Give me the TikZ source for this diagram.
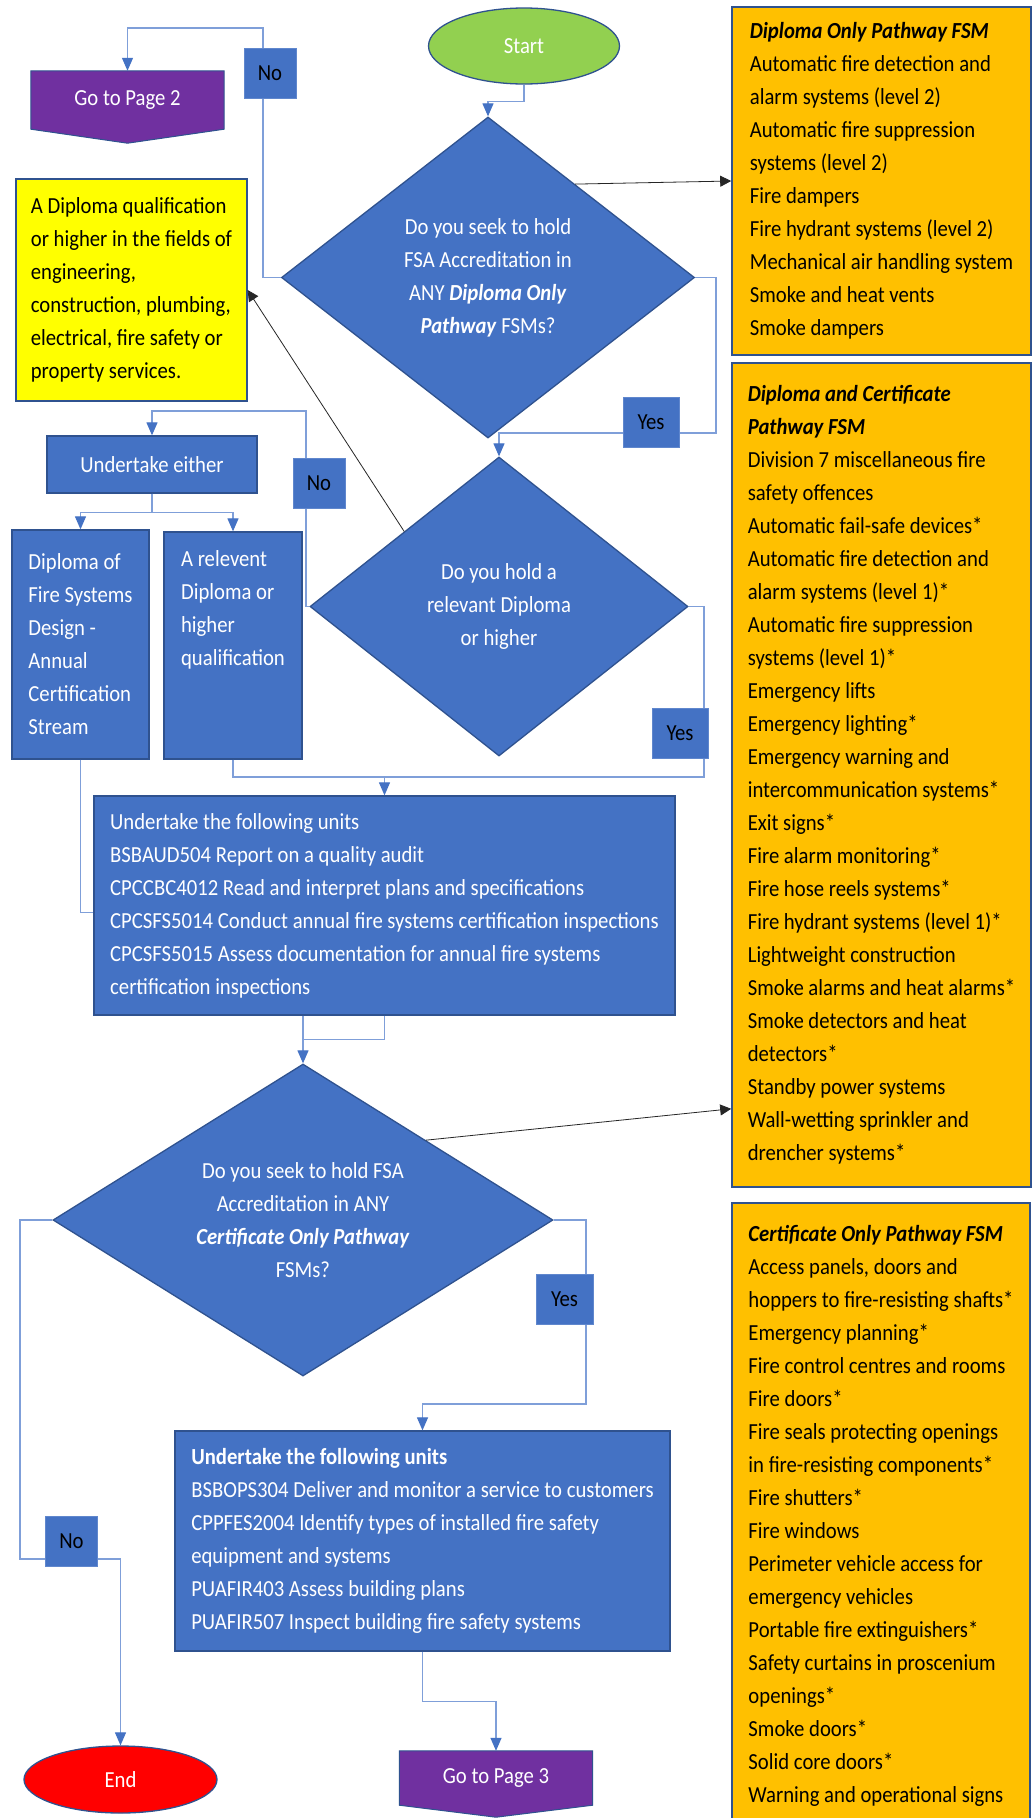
\documentclass[tikz,border=0pt]{standalone}
\usepackage{fontspec}
\setmainfont{Carlito}[FakeStretch=0.9]
\usetikzlibrary{shapes.geometric,arrows.meta,backgrounds}

\definecolor{offblue}{HTML}{4472C4}
\definecolor{offdark}{HTML}{2F528F}
\definecolor{lineblue}{HTML}{7F9FD9}
\definecolor{startgreen}{HTML}{92D050}
\definecolor{endred}{HTML}{FF0000}
\definecolor{pagepurple}{HTML}{7030A0}
\definecolor{fsmamber}{HTML}{FFC000}
\definecolor{qualyellow}{HTML}{FFFF00}

\begin{document}
\begin{tikzpicture}[x=1pt,y=-1pt,
  every node/.style={font=\fontsize{23}{33}\selectfont},
  box/.style={rectangle, draw=offdark, line width=1.3pt, fill=offblue, text=white, inner sep=0pt},
  decision/.style={diamond, aspect=1.4, draw=offdark, line width=1.3pt, fill=offblue, text=white, inner sep=0pt, align=center},
  terminal/.style={ellipse, draw=offdark, line width=1.3pt, text=white, inner sep=0pt},
  pagebox/.style={rectangle, minimum width=193pt, text=white, inner sep=0pt},
  pagefill/.style={fill=pagepurple, draw=offdark, line width=1pt},
  listbox/.style={rectangle, draw=offdark, line width=1.6pt, fill=fsmamber, text=black, align=left, inner sep=0pt},
  tag/.style={rectangle, fill=offblue, draw=offblue!85!white, line width=0.8pt, text=black, minimum width=52pt, minimum height=50pt, inner sep=0pt},
  flow/.style={draw=lineblue, line width=1.2pt, -{Triangle[length=13pt,width=11pt,color=offblue]}},
  link/.style={draw=lineblue, line width=1.2pt},
  pointer/.style={draw=black!85, line width=0.8pt, -{Triangle[length=11pt,width=11pt]}}]

%page frame
\useasboundingbox (0,0) rectangle (1035,1818);

%
%top: start, page 2, first question
%

\node[terminal, fill=startgreen, minimum width=191pt, minimum height=76pt] (start) at (524,46) {Start};
\node[pagebox, minimum height=58pt] (page2) at (127.5,100) {Go to Page 2};

\node[decision, minimum width=413pt, minimum height=321pt] (qdip) at (488,277.5)
  {Do you seek to hold\\FSA Accreditation in\\ANY \textbf{\textit{Diploma Only}}\\\textbf{\textit{Pathway}} FSMs?};

\node[listbox, minimum width=299pt, minimum height=348pt] (fsmdip) at (881.5,181)
  {\textbf{\textit{Diploma Only Pathway FSM}}\\Automatic fire detection and\\alarm systems (level 2)\\Automatic fire suppression\\systems (level 2)\\Fire dampers\\Fire hydrant systems (level 2)\\Mechanical air handling system\\Smoke and heat vents\\Smoke dampers};

\node[rectangle, draw=offdark, line width=1.3pt, fill=qualyellow, text=black, align=left, inner sep=0pt, minimum width=231pt, minimum height=222pt] (quals) at (131.5,290)
  {A Diploma qualification\\or higher in the fields of\\engineering,\\construction, plumbing,\\electrical, fire safety or\\property services.};

%
%middle: relevant diploma question
%

\node[decision, minimum width=378pt, minimum height=299pt] (qrel) at (499,606.5)
  {Do you hold a\\relevant Diploma\\or higher};

\node[box, minimum width=210pt, minimum height=57pt] (either) at (152,464.5) {Undertake either};
\node[box, align=left, minimum width=137pt, minimum height=229pt] (dipfsd) at (80.5,644.5)
  {Diploma of\\Fire Systems\\Design -\\Annual\\Certification\\Stream};
\node[box, align=left, minimum width=138pt, minimum height=227pt] (reldip) at (233,645.5)
  {A relevent\\Diploma or\\higher\\qualification\\\strut\\\strut};

\node[listbox, minimum width=299pt, minimum height=824pt] (fsmboth) at (881.5,775)
  {\textbf{\textit{Diploma and Certificate}}\\\textbf{\textit{Pathway FSM}}\\Division 7 miscellaneous fire\\safety offences\\Automatic fail-safe devices*\\Automatic fire detection and\\alarm systems (level 1)*\\Automatic fire suppression\\systems (level 1)*\\Emergency lifts\\Emergency lighting*\\Emergency warning and\\intercommunication systems*\\Exit signs*\\Fire alarm monitoring*\\Fire hose reels systems*\\Fire hydrant systems (level 1)*\\Lightweight construction\\Smoke alarms and heat alarms*\\Smoke detectors and heat\\detectors*\\Standby power systems\\Wall-wetting sprinkler and\\drencher systems*};

\node[box, align=left, minimum width=581pt, minimum height=219pt] (unitsA) at (384.5,905.5)
  {Undertake the following units\\BSBAUD504 Report on a quality audit\\CPCCBC4012 Read and interpret plans and specifications\\CPCSFS5014 Conduct annual fire systems certification inspections\\CPCSFS5015 Assess documentation for annual fire systems\\certification inspections};

%
%bottom: certificate question
%

\node[decision, minimum width=500pt, minimum height=312pt] (qcert) at (303,1220)
  {Do you seek to hold FSA\\Accreditation in ANY\\\textbf{\textit{Certificate Only Pathway}}\\FSMs?};

\node[listbox, minimum width=298pt, minimum height=625pt] (fsmcert) at (881,1515.5)
  {\textbf{\textit{Certificate Only Pathway FSM}}\\Access panels, doors and\\hoppers to fire-resisting shafts*\\Emergency planning*\\Fire control centres and rooms\\Fire doors*\\Fire seals protecting openings\\in fire-resisting components*\\Fire shutters*\\Fire windows\\Perimeter vehicle access for\\emergency vehicles\\Portable fire extinguishers*\\Safety curtains in proscenium\\openings*\\Smoke doors*\\Solid core doors*\\Warning and operational signs};

\node[box, align=left, minimum width=495pt, minimum height=220pt] (unitsB) at (422.5,1541)
  {\textbf{Undertake the following units}\\BSBOPS304 Deliver and monitor a service to customers\\CPPFES2004 Identify types of installed fire safety\\equipment and systems\\PUAFIR403 Assess building plans\\PUAFIR507 Inspect building fire safety systems};

\node[terminal, fill=endred, minimum width=193pt, minimum height=67pt] (finish) at (120.5,1779.5) {End};
\node[pagebox, minimum height=54pt] (page3) at (496,1778) {Go to Page 3};

%background + off-page shapes
\begin{scope}[on background layer]
\fill[white] (0,0) rectangle (1035,1818);
\foreach \p/\d in {page2/14pt, page3/12pt}
  \filldraw[pagefill] (\p.north west) -- (\p.north east) -- (\p.south east) -- ([yshift=-\d]\p.south) -- (\p.south west) -- cycle;
\end{scope}

%connectors
\draw[flow] (start.south) -- ++(0,17) -| (qdip.north);
\draw[flow] (qdip.west) -| (263,28) -| (page2.north); % no
\draw[flow] (qdip.east) -| (716,433) -| (qrel.north); % yes
\draw[flow] (qrel.west) -| (306,411) -| (either.north); % no
\draw[flow] (either.south) -- ++(0,19) -| (dipfsd.north);
\draw[flow] (either.south) -- ++(0,19) -| (reldip.north);
\draw[flow] (qrel.east) -| (704,777) -| (unitsA.north); % yes
\draw[link] (reldip.south) |- (unitsA.north |- 0,777);
\draw[link] (dipfsd.south) |- ([yshift=-7pt]unitsA.west);
\draw[flow] (unitsA.south) -- ++(0,24) -| (qcert.north);
\draw[link] (unitsA.south -| qcert.north) -- ++(0,24);
\draw[flow] (qcert.west) -| (20,1559) -| (finish.north); % no
\draw[flow] (qcert.east) -| (586,1404) -| (unitsB.north); % yes
\draw[flow] (unitsB.south) -- ++(0,50) -| (page3.north);

%pointers to the lists
\draw[pointer] (qdip.47) -- (fsmdip.west);
\draw[pointer] (qrel.north west) -- (quals.east);
\draw[pointer] (qcert.33) -- ([yshift=79pt]fsmboth.south west);

%yes / no labels
\node[tag] (no1) at (270,73) {No};
\node[tag, minimum width=56pt] (yes1) at (651,422) {Yes};
\node[tag] (no2) at (319,483) {No};
\node[tag, minimum width=56pt] (yes2) at (680,733) {Yes};
\node[tag, minimum width=57pt] (yes3) at (564.5,1299) {Yes};
\node[tag] (no3) at (71.5,1541.5) {No};

\end{tikzpicture}
\end{document}
